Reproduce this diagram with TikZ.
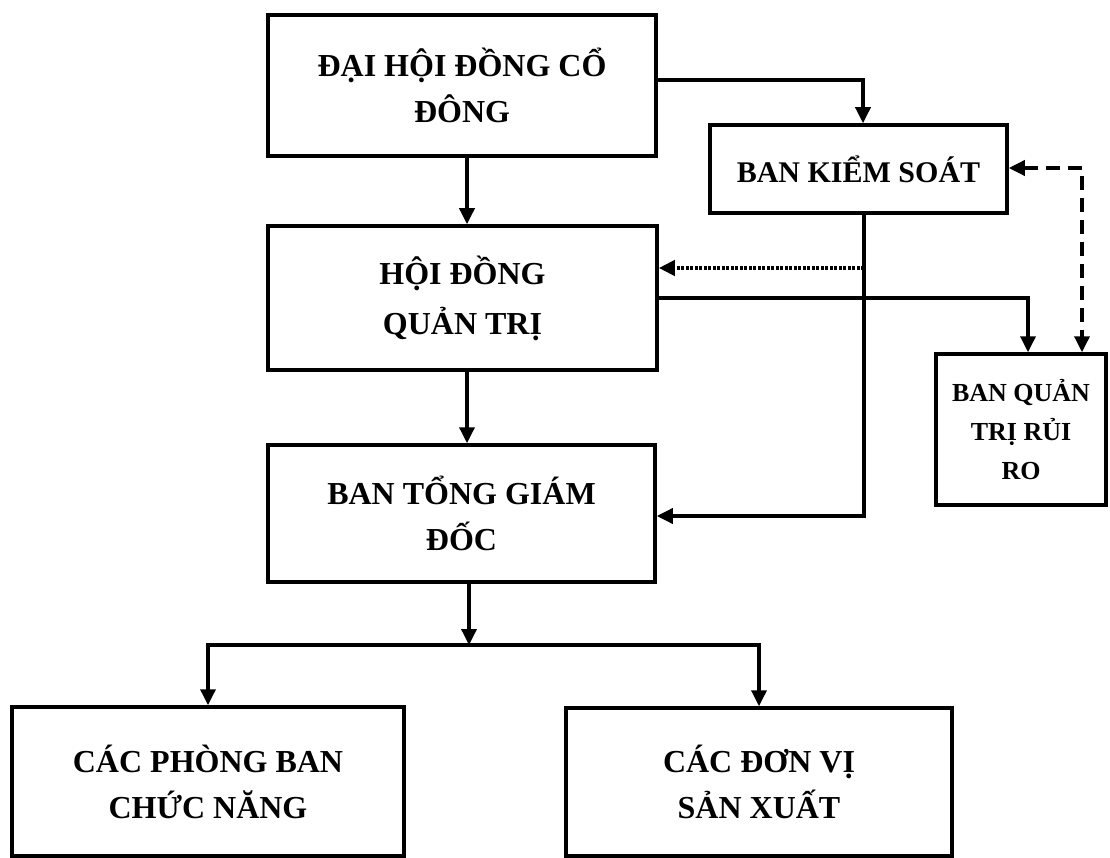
\documentclass[tikz,border=0pt]{standalone}
\usepackage{fontspec}
\setmainfont{Liberation Serif}
\usetikzlibrary{arrows.meta}
\begin{document}
\begin{tikzpicture}[x=1pt,y=-1pt,
  box/.style={draw, line width=3.5pt, inner sep=0pt, align=center,
    font=\bfseries\fontsize{32}{46}\selectfont},
  tip/.tip={Triangle[width=15pt,length=16pt]},
  arr/.style={line width=3.5pt, -tip},
  dotarr/.style={line width=4pt, dash pattern=on 3pt off 1.5pt, -tip},
  dasharr/.style={line width=3.5pt, dash pattern=on 14pt off 8pt, tip-tip},
  conn/.style={line width=3.5pt}]
\useasboundingbox (0,0) rectangle (1110,858);

\node[box, minimum width=388pt, minimum height=141pt] (dh) at (462,85.5)
  {ĐẠI HỘI ĐỒNG CỔ\\ĐÔNG};
\node[box, minimum width=297pt, minimum height=88pt,
  font=\bfseries\fontsize{30}{40}\selectfont] (bks) at (858.5,169) {BAN KIỂM SOÁT};
\node[box, minimum width=389pt, minimum height=144pt,
  font=\bfseries\fontsize{32}{50}\selectfont] (hd) at (462.5,298) {HỘI ĐỒNG\\QUẢN TRỊ};
\node[box, minimum width=387pt, minimum height=137pt] (bt) at (461.5,513.5)
  {BAN TỔNG GIÁM\\ĐỐC};
\node[box, minimum width=170pt, minimum height=151pt,
  font=\bfseries\fontsize{26}{39}\selectfont] (qt) at (1021,429.5) {BAN QUẢN\\TRỊ RỦI\\RO};
\node[box, minimum width=392pt, minimum height=149pt] (cp) at (208,781.5)
  {CÁC PHÒNG BAN\\CHỨC NĂNG};
\node[box, minimum width=386pt, minimum height=148pt] (dv) at (759,782)
  {CÁC ĐƠN VỊ\\SẢN XUẤT};

\coordinate (j) at (864,268);
\coordinate (bar) at (469,645);

\draw[arr] (dh.east |- 0,80) -| (bks.north -| 863,0);
\draw[arr] (dh.south -| 467,0) -- (hd.north -| 467,0);
\draw[arr] (hd.south -| 467,0) -- (bt.north -| 467,0);
\draw[arr] (bks.south -| 864,0) |- (bt.east |- 0,516);
\draw[dotarr] (j) -- (hd.east |- j);
\draw[arr] (hd.east |- 0,298) -| (qt.north -| 1028,0);
\draw[dasharr] (bks.east |- 0,168) -| (qt.north -| 1082,0);
\draw[arr] (bt.south -| bar) -- (bar);
\draw[arr] (bar) -| (cp.north);
\draw[arr] (bar) -| (dv.north);
\end{tikzpicture}
\end{document}
